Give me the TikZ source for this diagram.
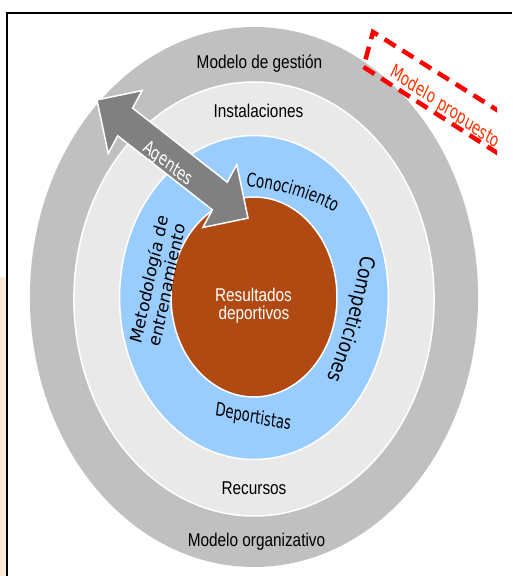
\documentclass[tikz,border=0pt]{standalone}
\usepackage{fontspec}
\usetikzlibrary{decorations.text}
\newfontfamily\ringfont{Liberation Sans}
\newfontfamily\artfont[FakeStretch=0.85]{DejaVu Sans}
\newfontfamily\arcfont[FakeStretch=0.72]{DejaVu Sans}
\definecolor{outergray}{HTML}{C0C0C0}
\definecolor{innergray}{HTML}{E9E9E9}
\definecolor{skyblue}{HTML}{99CCFF}
\definecolor{rust}{HTML}{B14A12}
\definecolor{arrowgray}{HTML}{808080}
\definecolor{peach}{HTML}{FBEBD7}
\definecolor{proposal}{HTML}{FF0000}
\definecolor{proposaltext}{HTML}{FF3300}
\begin{document}
\begin{tikzpicture}[x=1pt,y=1pt,
  ring/.style={draw=white, line width=1.5pt},
  ringlabel/.style={transform shape, inner sep=0pt, anchor=base,
    font=\ringfont\fontsize{18.5}{22}\selectfont},
  artlabel/.style={transform shape, inner sep=0pt,
    font=\artfont\fontsize{18.8}{22}\selectfont},
]
\useasboundingbox (0,0) rectangle (512,576);

% page edge and frame
\fill[peach] (0,0) rectangle (6,299);
\draw[line width=1.8pt] (7,0) -- (7,563) -- (512,563);

% concentric model, drawn as circles and squeezed horizontally
\begin{scope}[shift={(254,279)}, xscale=0.83]
  \fill[outergray] (0,0) circle[radius=270];
  \filldraw[ring, fill=innergray] (0,-2) circle[radius=217];
  \filldraw[ring, fill=skyblue] (0,-0.5) circle[radius=162];
  \filldraw[ring, fill=rust] (0,0) circle[radius=100];

  \node[ringlabel] (gestion) at (6.6,228.7) {Modelo de gestión};
  \node[ringlabel] (instal) at (5.4,179.7) {Instalaciones};
  \node[ringlabel] (recursos) at (0,-198) {Recursos};
  \node[ringlabel] (organiz) at (3,-249.7) {Modelo organizativo};
  \node[ringlabel, text=white] (result) at (-0.6,-4.7) {Resultados};
  \node[ringlabel, text=white] (deport) at (0,-23) {deportivos};

  % arched labels of the blue ring (glyphs set in their own condensed face)
  \path[decorate, decoration={text along path, text align=center,
      text={|\arcfont\fontsize{18.8}{22}\selectfont|Conocimiento}}]
    (-21.4,110.8) arc[start angle=88.6, end angle=64.6, radius=320];
  \path[decorate, decoration={text along path, text align=center,
      text={|\artfont\fontsize{20.4}{22}\selectfont|Competiciones}}]
    (132.1,54.2) arc[start angle=-9.7, end angle=-27.7, radius=500];
  \node[artlabel, anchor=base, rotate=-8.8] (deportistas) at (-1.8,-126) {Deportistas};
  \node[artlabel, rotate=75.6, align=center, font=\artfont\fontsize{20}{22}\selectfont]
    (metodo) at (-116,15) {Metodología de\\entrenamiento};

  % double block arrow for the agents
  \begin{scope}[shift={(-98.2,138)}, rotate=-33]
    \filldraw[fill=arrowgray, draw=white, line width=1.5pt]
      (-108.5,0) -- (-68,37.5) -- (-68,16.5) -- (68,16.5) -- (68,37.5)
      -- (108.5,0) -- (68,-37.5) -- (68,-16.5) -- (-68,-16.5) -- (-68,-37.5) -- cycle;
    \node[artlabel, text=white, font=\artfont\fontsize{19.2}{20}\selectfont]
      (agentes) at (-2,-7.5) {Agentes};
  \end{scope}
\end{scope}

% proposed model tag, cut by the right edge
\begin{scope}
  \clip (0,0) rectangle (497,576);
  \draw[proposal, line width=4.5pt, dash pattern=on 13pt off 8pt]
    (520,451.5) -- (373,544) -- (363.5,509) -- (520,408.5);
  \begin{scope}[shift={(254,279)}, xscale=0.83]
    \node[artlabel, rotate=-29.6, text=proposaltext,
      font=\artfont\fontsize{19.4}{20}\selectfont]
      (propuesto) at (230,189.6) {Modelo propuesto};
  \end{scope}
\end{scope}
\end{tikzpicture}
\end{document}
